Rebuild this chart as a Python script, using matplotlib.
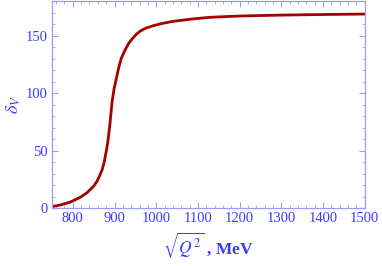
import matplotlib.pyplot as plt
from matplotlib.ticker import MultipleLocator

plt.rcParams['mathtext.fontset'] = 'stix'
plt.rcParams['font.family'] = 'Liberation Serif'

# values
q = [750, 770, 794, 818, 834, 850, 858, 864, 870, 875, 880, 884, 889, 894, 899,
     904, 910, 916, 926, 934, 942, 952, 962, 976, 994, 1015, 1041, 1089, 1129,
     1200, 1300, 1400, 1500]
delta = [1.2, 2.6, 5.2, 9.3, 13.3, 19, 23.2, 27.8, 33, 39.5, 49, 57.5, 73, 92, 104,
         112, 122, 130, 138, 143.2, 147, 151, 154, 156.6, 158.7, 160.6, 162.4,
         164.5, 165.9, 167, 167.8, 168.3, 168.7]

blue = '#3a3aff'
frame = '#9a9aff'

fig = plt.figure(figsize=(3.82, 2.66), dpi=100)
ax = fig.add_axes([0.136, 0.218, 0.819, 0.778])

ax.plot(q, delta, color='#a30000', lw=2.0, solid_joinstyle='round')

ax.set_xlim(750, 1500)
ax.set_ylim(0, 180)
ax.xaxis.set_major_locator(MultipleLocator(100))
ax.xaxis.set_minor_locator(MultipleLocator(20))
ax.yaxis.set_major_locator(MultipleLocator(50))
ax.yaxis.set_minor_locator(MultipleLocator(10))

for s in ax.spines.values():
    s.set_color(frame)
    s.set_linewidth(0.9)
ax.tick_params(which='both', direction='in', top=True, right=True,
               color=frame, labelcolor=blue, labelsize=10.5)
ax.tick_params(which='major', length=4, pad=3)
ax.tick_params(which='minor', length=2)

ax.set_xlabel(r'$\sqrt{Q^2}$ , MeV', color=blue, fontsize=12.5,
              fontweight='bold', labelpad=4)
ax.set_ylabel(r'$\delta_V$', color=blue, fontsize=13, labelpad=2)

fig.savefig('out.png', dpi=100)
